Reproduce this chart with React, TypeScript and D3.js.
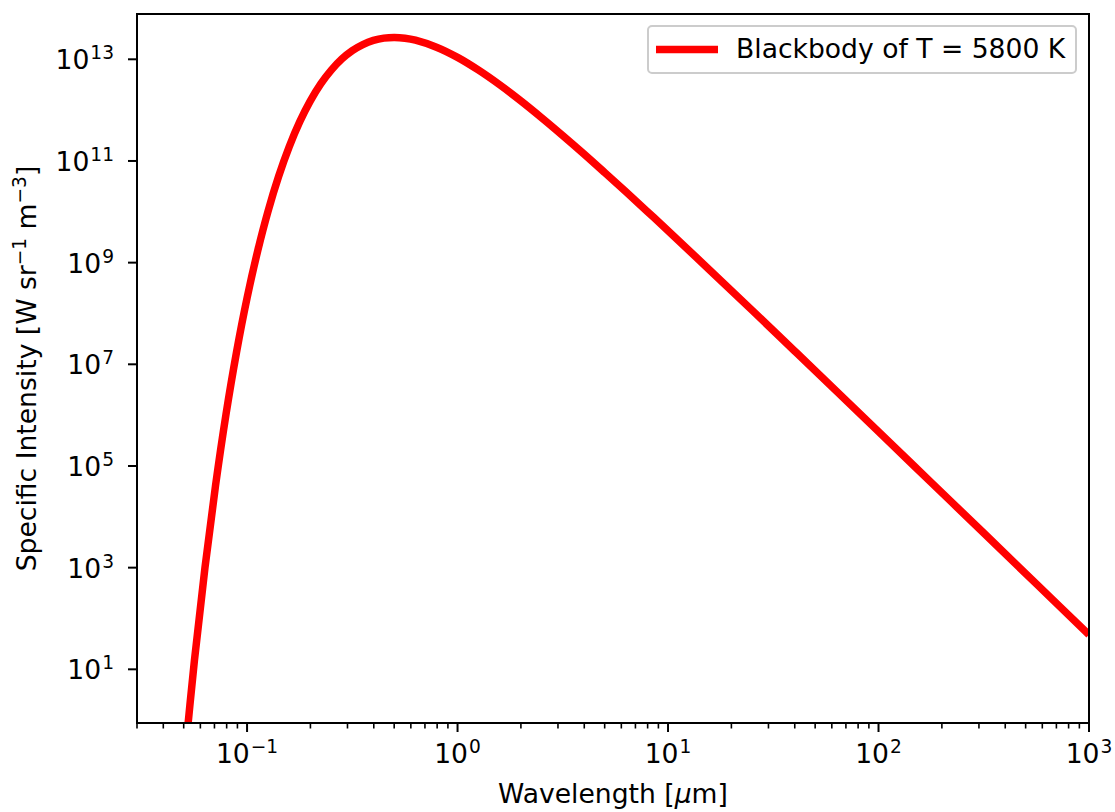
import React from "react";
import * as d3 from "d3";

// wavelength in micron, specific intensity in W sr^-1 m^-3
const wavelength = [
  0.0501, 0.0562, 0.0631, 0.0708, 0.0794, 0.0891, 0.1, 0.1122, 0.1259, 0.1413,
  0.1585, 0.1778, 0.1995, 0.2239, 0.2512, 0.2818, 0.3162, 0.3548, 0.3981, 0.4467,
  0.5012, 0.5623, 0.631, 0.7943, 1.0, 1.259, 1.585, 1.995, 2.512, 3.162,
  3.981, 5.012, 6.31, 7.943, 10, 15.85, 25.12, 39.81, 63.1, 100,
  177.8, 316.2, 562.3, 1000,
];
const intensity = [
  0.12, 14.7, 1.0e3, 4.06e4, 1.03e6, 1.73e7, 2.01e8, 1.67e9, 1.04e10, 5.0e10,
  1.9e11, 5.86e11, 1.5e12, 3.27e12, 6.12e12, 1.01e13, 1.48e13, 1.95e13, 2.35e13, 2.61e13,
  2.69e13, 2.6e13, 2.38e13, 1.73e13, 1.09e13, 6.1e12, 3.15e12, 1.53e12, 7.06e11, 3.16e11,
  1.38e11, 5.87e10, 2.47e10, 1.03e10, 4.23e9, 7.03e8, 1.15e8, 1.85e7, 2.97e6, 4.74e5,
  4.76e4, 4.79e3, 479, 48.0,
];
const xMajorExp = [-1, 0, 1, 2, 3];
const yMajorExp = [1, 3, 5, 7, 9, 11, 13];
const legendLabel = "Blackbody of T = 5800 K";

const W = 1115, H = 812;
const plot = { left: 137, top: 14, right: 1089, bottom: 723 };
const font = "DejaVu Sans";
const fs = 26.6, fsSup = 18.6;

const sup = (e: number) => (e < 0 ? "\u2212" + Math.abs(e) : String(e));

export default function App() {
  const x = d3.scaleLog().domain([0.03, 1000]).range([plot.left, plot.right]);
  const y = d3.scaleLog().domain([Math.pow(10, -0.056), Math.pow(10, 13.891)]).range([plot.bottom, plot.top]);

  const pts: [number, number][] = wavelength.map((w, i) => [w, intensity[i]]);
  const line = d3.line<[number, number]>()
    .x(d => x(d[0]))
    .y(d => y(d[1]))
    .curve(d3.curveCatmullRom);

  // minor x ticks: 2..9 x 10^k inside domain
  const minor: number[] = [];
  for (let k = -2; k <= 2; k++) {
    for (let m = 2; m <= 9; m++) {
      const v = m * Math.pow(10, k);
      if (v >= 0.03 - 1e-9 && v <= 1000) minor.push(v);
    }
  }

  return (
    <svg width={W} height={H} style={{ position: "absolute", left: 0, top: 0, background: "#fff" }} fontFamily={font}>
      <defs>
        <clipPath id="plotclip">
          <rect x={plot.left} y={plot.top} width={plot.right - plot.left} height={plot.bottom - plot.top} />
        </clipPath>
      </defs>

      <path d={line(pts) || ""} fill="none" stroke="#ff0000" strokeWidth={7.5} clipPath="url(#plotclip)" />

      {/* frame */}
      <rect x={plot.left} y={plot.top} width={plot.right - plot.left} height={plot.bottom - plot.top}
        fill="none" stroke="#000" strokeWidth={2} />

      {/* x ticks */}
      {minor.map(v => (
        <line key={"m" + v} x1={x(v)} x2={x(v)} y1={plot.bottom} y2={plot.bottom + 5.5} stroke="#000" strokeWidth={1.6} />
      ))}
      {xMajorExp.map(e => (
        <g key={"x" + e}>
          <line x1={x(Math.pow(10, e))} x2={x(Math.pow(10, e))} y1={plot.bottom} y2={plot.bottom + 9} stroke="#000" strokeWidth={2} />
          <text x={x(Math.pow(10, e))} y={763} fontSize={fs} textAnchor="middle">
            10<tspan fontSize={fsSup} dy={-9.9} dx={1}>{sup(e)}</tspan>
          </text>
        </g>
      ))}

      {/* y ticks */}
      {yMajorExp.map(e => (
        <g key={"y" + e}>
          <line x1={plot.left - 9} x2={plot.left} y1={y(Math.pow(10, e))} y2={y(Math.pow(10, e))} stroke="#000" strokeWidth={2} />
          <text x={114} y={y(Math.pow(10, e)) + 10} fontSize={fs} textAnchor="end">
            10<tspan fontSize={fsSup} dy={-9.9} dx={1}>{sup(e)}</tspan>
          </text>
        </g>
      ))}

      {/* axis labels */}
      <text x={(plot.left + plot.right) / 2} y={803} fontSize={fs} textAnchor="middle">
        Wavelength [<tspan fontStyle="italic">μ</tspan>m]
      </text>
      <text transform={`translate(36,${(plot.top + plot.bottom) / 2}) rotate(-90)`} fontSize={fs} textAnchor="middle">
        Specific Intensity [W sr<tspan fontSize={fsSup} dy={-10}>{"\u22121"}</tspan>
        <tspan dy={10}> m</tspan><tspan fontSize={fsSup} dy={-10}>{"\u22123"}</tspan><tspan dy={10}>]</tspan>
      </text>

      {/* legend */}
      <g>
        <rect x={648} y={26} width={428} height={47} rx={4} fill="#fff" fillOpacity={0.8} stroke="#cccccc" strokeWidth={2} />
        <line x1={656} x2={718} y1={49.5} y2={49.5} stroke="#ff0000" strokeWidth={7.5} />
        <text x={736} y={58} fontSize={fs}>{legendLabel}</text>
      </g>
    </svg>
  );
}
